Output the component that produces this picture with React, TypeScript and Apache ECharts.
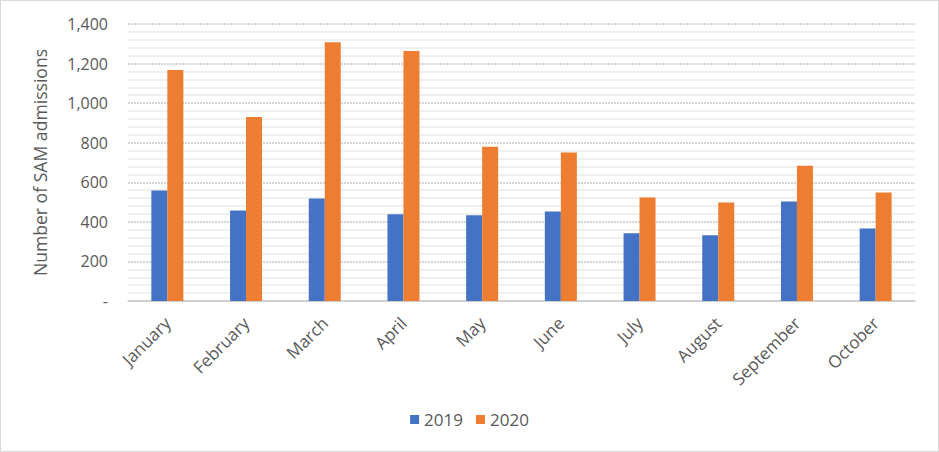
import React, { useEffect, useRef } from "react";
import * as echarts from "echarts";

const categories = ["January", "February", "March", "April", "May", "June", "July", "August", "September", "October"];
const values2019 = [558, 458, 518, 438, 433, 452, 342, 332, 503, 367];
const values2020 = [1167, 930, 1308, 1263, 779, 750, 523, 498, 684, 548];
const seriesNames = ["2019", "2020"];
const yTicks = { min: 0, max: 1400, interval: 200 };

export default function App() {
  const ref = useRef<HTMLDivElement>(null);
  useEffect(() => {
    document.body.style.margin = "0";
    const chart = echarts.init(ref.current!, null, { renderer: "svg" });
    const font = "'Open Sans', sans-serif";
    chart.setOption({
      animation: false,
      backgroundColor: "#ffffff",
      textStyle: { fontFamily: font },
      grid: { left: 127, right: 23, top: 23, bottom: 150 },
      legend: {
        data: seriesNames,
        bottom: 18,
        left: "center",
        itemWidth: 9,
        itemHeight: 9,
        itemGap: 13,
        icon: "rect",
        textStyle: { color: "#595959", fontSize: 17, fontFamily: font },
      },
      xAxis: {
        type: "category",
        data: categories,
        axisTick: { show: false },
        axisLine: { lineStyle: { color: "#c8c8c8", width: 1.5 } },
        axisLabel: { rotate: 45, color: "#595959", fontSize: 17, margin: 19, fontFamily: font },
      },
      yAxis: {
        type: "value",
        min: yTicks.min,
        max: yTicks.max,
        interval: yTicks.interval,
        name: "Number of SAM admissions",
        nameLocation: "middle",
        nameGap: 79,
        nameTextStyle: { color: "#595959", fontSize: 17.6, fontFamily: font },
        axisLine: { show: false },
        axisTick: { show: false },
        axisLabel: {
          color: "#595959",
          fontSize: 16,
          margin: 20,
          fontFamily: font,
          formatter: (v: number) => (v === 0 ? "-" : v.toLocaleString("en-US")),
        },
        splitLine: { lineStyle: { color: "#c8c8c8", width: 1.5, type: [2, 1] } },
        minorTick: { show: false, splitNumber: 5 },
        minorSplitLine: { show: true, lineStyle: { color: "#ebebeb", width: 1.5 } },
      },
      series: [
        {
          name: seriesNames[0],
          type: "bar",
          data: values2019,
          barWidth: 16,
          barGap: "0%",
          itemStyle: { color: "#4472C4" },
        },
        {
          name: seriesNames[1],
          type: "bar",
          data: values2020,
          barWidth: 16,
          barGap: "0%",
          itemStyle: { color: "#ED7D31" },
        },
      ],
    });
    return () => chart.dispose();
  }, []);
  return (
    <div
      style={{
        width: 939,
        height: 452,
        boxSizing: "border-box",
        border: "1px solid #d9d9d9",
        background: "#fff",
      }}
    >
      <div ref={ref} style={{ width: 937, height: 450 }} />
    </div>
  );
}
